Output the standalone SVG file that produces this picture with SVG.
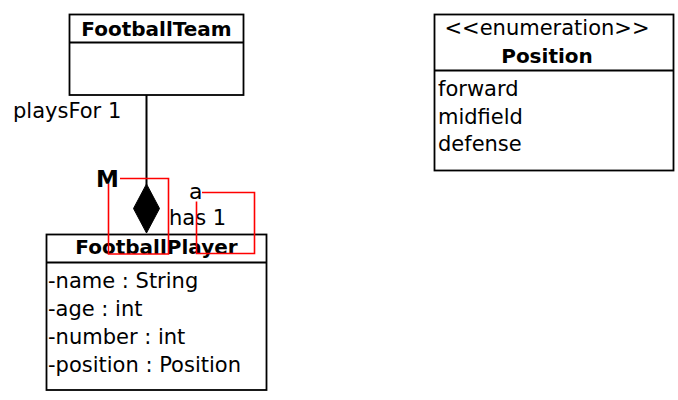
<svg xmlns="http://www.w3.org/2000/svg" width="678" height="400" viewBox="0 0 678 400">
<style>
.box{fill:#fff;stroke:#000;stroke-width:1.8}
.div{stroke:#000;stroke-width:1.8}
.t{font-family:"DejaVu Sans","Liberation Sans",sans-serif;font-size:21px;fill:#000}
.b{font-weight:bold;font-size:20px}
.red{fill:none;stroke:#ff0000;stroke-width:1.6}
</style>
<rect width="678" height="400" fill="#fff"/>
<g id="FootballTeam">
<rect class="box" x="69.5" y="14.5" width="174" height="80.5"/>
<line class="div" x1="69.5" y1="42.5" x2="243.5" y2="42.5"/>
<text class="t b" x="156.5" y="36" text-anchor="middle">FootballTeam</text>
</g>
<g id="Position">
<rect class="box" x="434.5" y="14.5" width="239" height="156"/>
<line class="div" x1="434.5" y1="70.5" x2="673.5" y2="70.5"/>
<text class="t" x="547" y="35" text-anchor="middle">&lt;&lt;enumeration&gt;&gt;</text>
<text class="t b" x="547" y="63" text-anchor="middle">Position</text>
<text class="t" x="438" y="96">forward</text>
<text class="t" x="438" y="124">midfield</text>
<text class="t" x="438" y="151">defense</text>
</g>
<g id="FootballPlayer">
<rect class="box" x="46.5" y="234.5" width="220" height="155.5"/>
<line class="div" x1="46.5" y1="262.5" x2="266.5" y2="262.5"/>
<text class="t b" x="156.5" y="254" text-anchor="middle">FootballPlayer</text>
<text class="t" x="48" y="288">-name : String</text>
<text class="t" x="48" y="316">-age : int</text>
<text class="t" x="48" y="344">-number : int</text>
<text class="t" x="48" y="372">-position : Position</text>
</g>
<g id="connectors">
<line x1="146.5" y1="95" x2="146.5" y2="185" stroke="#000" stroke-width="2"/>
<polygon points="146.5,184 159.5,208.5 146.5,233 133.5,208.5" fill="#000" stroke="#000" stroke-width="1"/>
<text class="t" x="13" y="118">playsFor 1</text>
<text class="t" x="169" y="225">has 1</text>
<path class="red" d="M120,178.5 H168.5 V254 H108.5 V183.5"/>
<path class="red" d="M202,192.5 H254.5 V253.5 H196.5 V201.5"/>
<text class="t" x="96" y="187" style="font-weight:bold;font-size:23px">M</text>
<text class="t" x="189" y="199" style="font-size:22px" fill="#222">a</text>
</g>
</svg>
